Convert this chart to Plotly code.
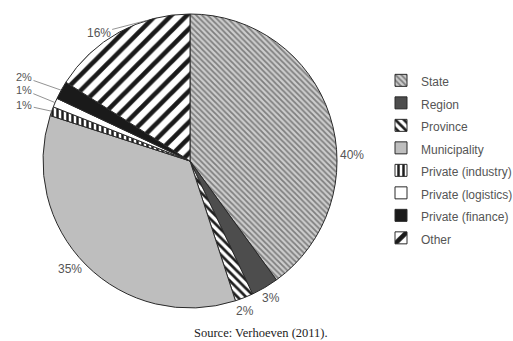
import math
import plotly.graph_objects as go

categories = ["State", "Region", "Province", "Municipality", "Private (industry)",
              "Private (logistics)", "Private (finance)", "Other"]
values = [40, 3, 2, 35, 1, 1, 2, 16]
pct_labels = ["40%", "3%", "2%", "35%", "1%", "1%", "2%", "16%"]

# label placement tweaks (degrees offset from slice middle, distance in radii)
label_angle_offset = [16, 0, 1.5, 3, -1.2, -0.2, -2.0, -6.7]
label_dist = [1.10, 1.08, 1.09, 1.10, 1.19, 1.23, 1.265, 1.07]
label_size = [12, 12, 12, 12, 11, 11, 11, 12]
leader = [False, False, False, False, True, True, True, True]
leader_angle_offset = [0, 0, 0, 0, 0, 0, 0, 12]

colors = ["#cdcdcd", "#4d4d4d", "#ffffff", "#bebebe", "#ffffff", "#ffffff", "#1a1a1a", "#ffffff"]
shapes = ["\\", "", "\\", "", "|", "", "", "/"]
fgcolors = ["#7e7e7e", "#4d4d4d", "#1e1e1e", "#bebebe", "#1e1e1e", "#ffffff", "#1a1a1a", "#1a1a1a"]
sizes = [4, 6, 6, 6, 5, 6, 6, 11]
solidity = [0.45, 0.3, 0.45, 0.3, 0.5, 0.3, 0.3, 0.42]

W, H = 513, 341
CX, CY, R = 190, 161, 147  # pie centre / radius in pixels

legend_labels = ['<span style="font-size:12px">%s</span>' % c for c in categories]

fig = go.Figure(go.Pie(
    labels=legend_labels,
    values=values,
    sort=False,
    direction="clockwise",
    rotation=0,
    marker=dict(
        colors=colors,
        line=dict(color="#2a2a2a", width=1),
        pattern=dict(shape=shapes, fgcolor=fgcolors, bgcolor=colors, fgopacity=1,
                     size=sizes, solidity=solidity, fillmode="overlay"),
    ),
    textinfo="none",
    domain=dict(x=[(CX - R) / W, (CX + R) / W], y=[(H - CY - R) / H, (H - CY + R) / H]),
    hoverinfo="label+percent",
))

annotations = []
total = sum(values)
cum = 0.0
for i, v in enumerate(values):
    mid = (cum + v / 2) / total * 360
    cum += v
    la = math.radians(mid + label_angle_offset[i])
    lx = CX + label_dist[i] * R * math.sin(la)
    ly = CY - label_dist[i] * R * math.cos(la)
    font = dict(family="Liberation Sans, Arial", size=label_size[i], color="#555555")
    if leader[i]:
        ha = math.radians(mid + leader_angle_offset[i])
        hx = CX + R * math.sin(ha)
        hy = CY - R * math.cos(ha)
        annotations.append(dict(text=pct_labels[i], x=hx / W, y=(H - hy) / H, xref="paper", yref="paper",
                                showarrow=True, ax=lx - hx, ay=ly - hy, axref="pixel", ayref="pixel",
                                arrowhead=0, arrowwidth=0.8, arrowcolor="#777777", standoff=0,
                                font=font))
    else:
        annotations.append(dict(text=pct_labels[i], x=lx / W, y=(H - ly) / H, xref="paper", yref="paper",
                                showarrow=False, xanchor="center", yanchor="middle", font=font))

annotations.append(dict(text="Source: Verhoeven (2011).", x=261 / W, y=(H - 333) / H,
                        xref="paper", yref="paper", xanchor="center", yanchor="middle", showarrow=False,
                        font=dict(family="Liberation Serif, Times New Roman", size=12.5, color="#222222")))

fig.update_layout(
    width=W, height=H,
    margin=dict(l=0, r=0, t=0, b=0, autoexpand=False),
    paper_bgcolor="white",
    plot_bgcolor="white",
    showlegend=True,
    legend=dict(x=0.7427, y=0.812, xanchor="left", yanchor="top",
                font=dict(family="Liberation Sans, Arial", size=15, color="#555555"),
                itemclick=False, itemdoubleclick=False,
                bgcolor="rgba(0,0,0,0)", itemwidth=30),
    annotations=annotations,
)

fig.write_html("out.html")
